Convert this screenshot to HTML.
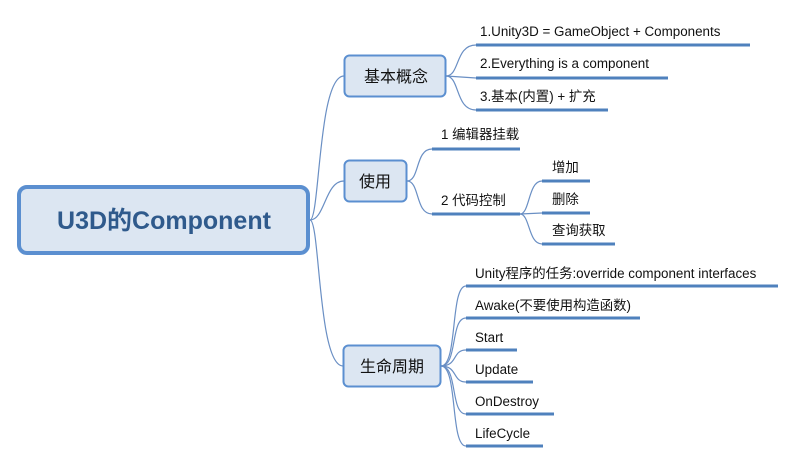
<!DOCTYPE html>
<html><head><meta charset="utf-8"><style>
body{margin:0;background:#fff;}
svg text{font-family:"Liberation Sans","Noto Sans CJK SC",sans-serif;fill:#111;}
</style></head><body>
<svg width="796" height="463" viewBox="0 0 796 463" xmlns="http://www.w3.org/2000/svg">
<g fill="none" stroke="#6a8fc4" stroke-width="1.2">
<path d="M310 220 C320 220 318 76 344 76"/>
<path d="M310 220 C325 220 325 181 344 181"/>
<path d="M310 220 C320 220 318 366 343 366"/>
<path d="M446 76 C460 76 455 45 476 45"/>
<path d="M446 76 L476 78"/>
<path d="M446 76 C460 76 455 110 476 110"/>
<path d="M407 181 C420 181 415 149 432 149"/>
<path d="M407 181 C420 181 415 214 432 214"/>
<path d="M520 214 C530 214 528 181 542 181"/>
<path d="M520 214 L542 213"/>
<path d="M520 214 C530 214 528 244 542 244"/>
<path d="M441 366 C458 366 450 286 466 286"/>
<path d="M441 366 C458 366 450 318 466 318"/>
<path d="M441 366 C458 366 452 350 466 350"/>
<path d="M441 366 C458 366 452 382 466 382"/>
<path d="M441 366 C458 366 450 414 466 414"/>
<path d="M441 366 C458 366 450 446 466 446"/>
</g>
<g stroke="#4f81bd" stroke-width="3">
<line x1="476" y1="45" x2="750" y2="45"/>
<line x1="476" y1="78" x2="668" y2="78"/>
<line x1="476" y1="110" x2="608" y2="110"/>
<line x1="432" y1="149" x2="520" y2="149"/>
<line x1="432" y1="214" x2="520" y2="214"/>
<line x1="542" y1="181" x2="590" y2="181"/>
<line x1="542" y1="213" x2="590" y2="213"/>
<line x1="542" y1="244" x2="615" y2="244"/>
<line x1="466" y1="286" x2="778" y2="286"/>
<line x1="466" y1="318" x2="640" y2="318"/>
<line x1="466" y1="350" x2="517" y2="350"/>
<line x1="466" y1="382" x2="533" y2="382"/>
<line x1="466" y1="414" x2="554" y2="414"/>
<line x1="466" y1="446" x2="543" y2="446"/>
</g>
<rect x="19" y="187" width="289" height="66" rx="8" fill="#dce6f2" stroke="#5b8fd0" stroke-width="4"/>
<text x="164" y="229" text-anchor="middle" font-size="25" font-weight="bold" style="fill:#2f5a8c">U3D的Component</text>
<rect x="344.5" y="55.5" width="101" height="41" rx="5" fill="#dce6f2" stroke="#5b8fd0" stroke-width="2"/>
<text x="396" y="82" text-anchor="middle" font-size="16">基本概念</text>
<rect x="344.5" y="160.5" width="62" height="41" rx="5" fill="#dce6f2" stroke="#5b8fd0" stroke-width="2"/>
<text x="375" y="187" text-anchor="middle" font-size="16">使用</text>
<rect x="343.5" y="345.5" width="97" height="41" rx="5" fill="#dce6f2" stroke="#5b8fd0" stroke-width="2"/>
<text x="392" y="372" text-anchor="middle" font-size="16">生命周期</text>
<g font-size="13.4">
<text x="480" y="36">1.Unity3D = GameObject + Components</text>
<text x="480" y="68">2.Everything is a component</text>
<text x="480" y="101">3.基本(内置) + 扩充</text>
<text x="441" y="139">1 编辑器挂载</text>
<text x="441" y="205">2 代码控制</text>
<text x="552" y="172">增加</text>
<text x="552" y="204">删除</text>
<text x="552" y="235">查询获取</text>
<text x="475" y="278">Unity程序的任务:override component interfaces</text>
<text x="475" y="310">Awake(不要使用构造函数)</text>
<text x="475" y="342">Start</text>
<text x="475" y="374">Update</text>
<text x="475" y="406">OnDestroy</text>
<text x="475" y="438">LifeCycle</text>
</g>
</svg>
</body></html>
